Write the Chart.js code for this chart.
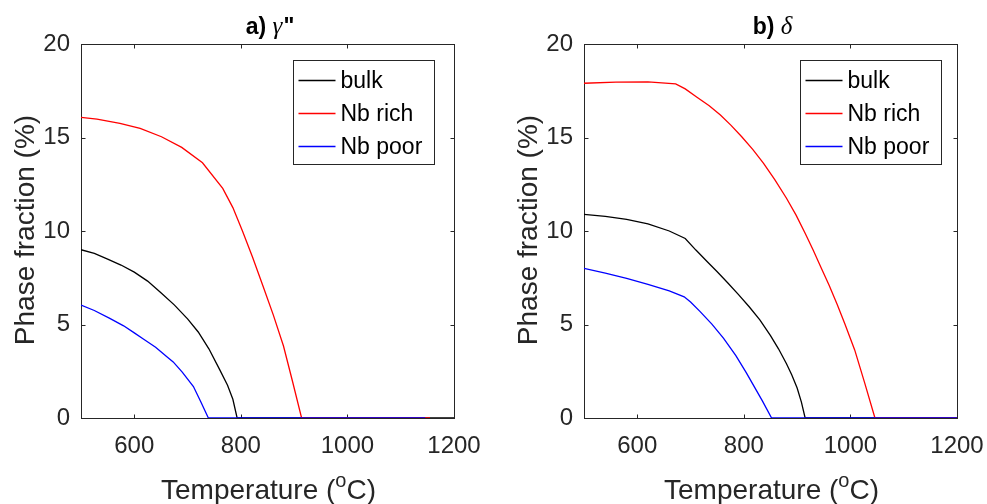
<!DOCTYPE html>
<html><head><meta charset="utf-8">
<script src="https://cdn.jsdelivr.net/npm/chart.js@4/dist/chart.umd.min.js"></script>
<style>
html,body{margin:0;padding:0;background:#fff;width:987px;height:504px;overflow:hidden}
.p{position:absolute;top:0;width:484px;height:504px}
</style></head><body>
<div class="p" style="left:0"><canvas id="c1" width="484" height="504"></canvas></div>
<div class="p" style="left:503px"><canvas id="c2" width="484" height="504"></canvas></div>
<script>
const xTicks = [600, 800, 1000, 1200];
const yTicks = [0, 5, 10, 15, 20];
const seriesNames = ['bulk', 'Nb rich', 'Nb poor'];
const seriesColors = ['#000000', '#ff0000', '#0000ff'];

// Panel a) gamma''
const bulkA_T = [500, 525, 550, 575, 600, 625, 650, 675, 700, 720, 740, 760, 775, 785, 793, 1200];
const bulkA_V = [9.0, 8.8, 8.5, 8.18, 7.8, 7.32, 6.7, 6.05, 5.3, 4.6, 3.7, 2.6, 1.75, 1.0, 0, 0];
const richA_T = [500, 530, 573, 611, 651, 689, 728, 766, 785, 803, 822, 842, 861, 880, 897, 914, 1155];
const richA_V = [16.08, 15.98, 15.76, 15.49, 15.04, 14.47, 13.65, 12.28, 11.25, 10.0, 8.6, 7.02, 5.5, 3.85, 1.95, 0, 0];
const poorA_T = [500, 525, 554, 580, 600, 617, 640, 660, 673, 690, 711, 725, 739, 1146];
const poorA_V = [6.04, 5.75, 5.33, 4.93, 4.55, 4.22, 3.78, 3.3, 3.0, 2.45, 1.68, 0.86, 0, 0];

// Panel b) delta
const bulkB_T = [500, 540, 580, 620, 660, 690, 710, 730, 750, 770, 790, 810, 830, 850, 865, 880, 890, 900, 908, 915, 1200];
const bulkB_V = [10.89, 10.78, 10.62, 10.38, 10.0, 9.6, 8.98, 8.4, 7.82, 7.22, 6.6, 5.95, 5.25, 4.4, 3.7, 2.9, 2.3, 1.6, 0.85, 0, 0];
const richB_T = [500, 560, 620, 672, 690, 712, 735, 756, 776, 796, 817, 837, 858, 880, 898, 915, 930, 945, 960, 975, 990, 1008, 1027, 1046, 1200];
const richB_V = [17.9, 17.96, 17.97, 17.87, 17.6, 17.15, 16.7, 16.2, 15.65, 15.04, 14.35, 13.62, 12.75, 11.75, 10.85, 9.88, 8.98, 8.04, 7.1, 6.08, 5.0, 3.64, 1.85, 0, 0];
const poorB_T = [500, 540, 580, 620, 660, 688, 700, 718, 740, 762, 785, 805, 820, 835, 852, 1200];
const poorB_V = [8.0, 7.75, 7.47, 7.15, 6.8, 6.48, 6.2, 5.69, 5.02, 4.26, 3.33, 2.4, 1.65, 0.9, 0, 0];

const SANS = '"Liberation Sans", Arial, sans-serif';
const AX = '#262626';

const decor = {
  id: 'decor',
  beforeDatasetsDraw(chart, args, o) {
    const {ctx, chartArea: a, scales: {x, y}} = chart;
    ctx.save();
    ctx.strokeStyle = AX; ctx.lineWidth = 1;
    const L = Math.round(a.left) + 0.5, R = Math.round(a.right) + 0.5;
    const T = Math.round(a.top) + 0.5, B = Math.round(a.bottom) + 0.5;
    ctx.strokeRect(L, T, R - L, B - T);
    ctx.beginPath();
    xTicks.forEach(v => {
      const px = Math.round(x.getPixelForValue(v)) + 0.5;
      if (px > L + 1 && px < R - 1) {
        ctx.moveTo(px, B); ctx.lineTo(px, B - 4);
        ctx.moveTo(px, T); ctx.lineTo(px, T + 4);
      }
    });
    yTicks.forEach(v => {
      const py = Math.round(y.getPixelForValue(v)) + 0.5;
      if (py > T + 1 && py < B - 1) {
        ctx.moveTo(L, py); ctx.lineTo(L + 4, py);
        ctx.moveTo(R, py); ctx.lineTo(R - 4, py);
      }
    });
    ctx.stroke();
    ctx.restore();
  },
  afterDraw(chart, args, o) {
    const {ctx, chartArea: a} = chart;
    const cx = (a.left + a.right) / 2;
    ctx.save();
    // title
    ctx.fillStyle = '#000';
    ctx.textBaseline = 'alphabetic';
    const f1 = 'bold 23px ' + SANS, f2 = 'italic 25px "Liberation Serif", "DejaVu Serif", serif';
    ctx.font = f1; const w1 = ctx.measureText(o.prefix).width;
    ctx.font = f2; const w2 = ctx.measureText(o.sym).width;
    ctx.font = f1; const w3 = o.suffix ? ctx.measureText(o.suffix).width : 0;
    let tx = cx - (w1 + w2 + w3) / 2 + 2;
    ctx.textAlign = 'left';
    ctx.font = f1; ctx.fillText(o.prefix, tx, 34); tx += w1;
    ctx.font = f2; ctx.fillText(o.sym, tx, 34); tx += w2;
    if (o.suffix) { ctx.font = f1; ctx.fillText(o.suffix, tx + 1, 34); }
    // x title with superscript
    ctx.fillStyle = AX;
    const fa = '28px ' + SANS, fs = '20px ' + SANS;
    ctx.font = fa; const a1 = ctx.measureText('Temperature (').width;
    ctx.font = fs; const a2 = ctx.measureText('o').width;
    ctx.font = fa; const a3 = ctx.measureText('C)').width;
    let xx = cx - (a1 + a2 + a3) / 2 + 1;
    ctx.font = fa; ctx.fillText('Temperature (', xx, 499); xx += a1;
    ctx.font = fs; ctx.fillText('o', xx, 487); xx += a2;
    ctx.font = fa; ctx.fillText('C)', xx, 499);
    // y title
    ctx.save();
    ctx.translate(34, 230);
    ctx.rotate(-Math.PI / 2);
    ctx.textAlign = 'center';
    ctx.font = fa;
    ctx.fillText('Phase fraction (%)', 0, 0);
    ctx.restore();
    // legend
    const bw = 141, bh = 104;
    const bx = Math.round(a.right - o.legendGap - bw) + 0.5, by = Math.round(a.top + 16) + 0.5;
    ctx.fillStyle = '#fff';
    ctx.fillRect(bx, by, bw, bh);
    ctx.strokeStyle = AX; ctx.lineWidth = 1;
    ctx.strokeRect(bx, by, bw, bh);
    ctx.font = '23px ' + SANS;
    ctx.textBaseline = 'middle';
    chart.data.datasets.forEach((d, i) => {
      const ry = Math.round(by + 19 + i * 33.3) + 0.5;
      ctx.strokeStyle = d.borderColor; ctx.lineWidth = 1.3;
      ctx.beginPath(); ctx.moveTo(bx + 5, ry); ctx.lineTo(bx + 42, ry); ctx.stroke();
      ctx.fillStyle = '#000';
      ctx.fillText(d.label, bx + 47, ry + 1);
    });
    ctx.restore();
  }
};

function makeChart(id, sets, deco) {
  return new Chart(document.getElementById(id), {
    type: 'line',
    data: {
      datasets: sets.map((s, i) => ({
        label: seriesNames[i],
        data: s[0].map((t, k) => ({x: t, y: s[1][k]})),
        borderColor: seriesColors[i],
        borderWidth: 1.3,
        pointRadius: 0,
        tension: 0,
        fill: false,
        order: 3 - i
      }))
    },
    options: {
      responsive: false,
      animation: false,
      layout: {padding: {top: 44, right: 30, bottom: 0, left: 0}},
      plugins: {legend: {display: false}, tooltip: {enabled: false}, title: {display: false}, decor: deco},
      scales: {
        x: {
          type: 'linear', min: 500, max: 1200,
          afterBuildTicks: s => { s.ticks = xTicks.map(v => ({value: v})); },
          afterFit: s => { s.height = 86; s.paddingLeft = 0; s.paddingRight = 0; },
          grid: {display: false, drawTicks: false},
          border: {display: false},
          ticks: {padding: 14, color: AX, font: {family: SANS, size: 24}, maxRotation: 0, autoSkip: false,
                  callback: v => String(v)}
        },
        y: {
          type: 'linear', min: 0, max: 20,
          afterBuildTicks: s => { s.ticks = yTicks.map(v => ({value: v})); },
          afterFit: s => { s.width = 81; s.paddingTop = 0; s.paddingBottom = 0; },
          grid: {display: false, drawTicks: false},
          border: {display: false},
          ticks: {padding: 11, color: AX, font: {family: SANS, size: 24}, callback: v => String(v)}
        }
      }
    },
    plugins: [decor]
  });
}

makeChart('c1', [[bulkA_T, bulkA_V], [richA_T, richA_V], [poorA_T, poorA_V]],
  {prefix: 'a) ', sym: 'γ', suffix: '"', legendGap: 20});
makeChart('c2', [[bulkB_T, bulkB_V], [richB_T, richB_V], [poorB_T, poorB_V]],
  {prefix: 'b) ', sym: 'δ', suffix: '', legendGap: 16});
</script>
</body></html>
